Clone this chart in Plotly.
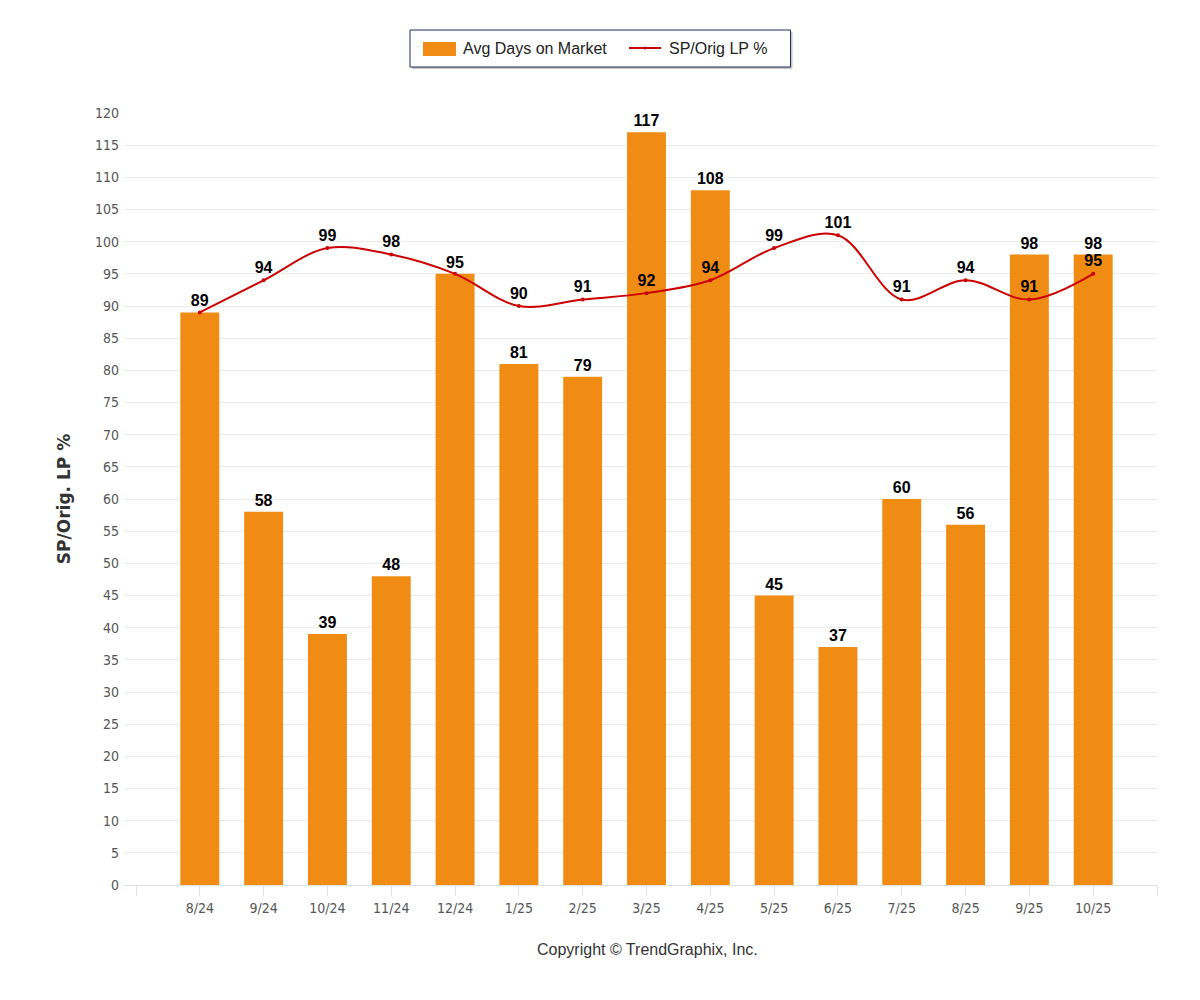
import plotly.graph_objects as go

months = ["8/24", "9/24", "10/24", "11/24", "12/24", "1/25", "2/25", "3/25",
          "4/25", "5/25", "6/25", "7/25", "8/25", "9/25", "10/25"]
avg_days = [89, 58, 39, 48, 95, 81, 79, 117, 108, 45, 37, 60, 56, 98, 98]
sp_orig_lp = [89, 94, 99, 98, 95, 90, 91, 92, 94, 99, 101, 91, 94, 91, 95]
y_ticks = list(range(0, 121, 5))
legend_names = ["Avg Days on Market", "SP/Orig LP %"]

BAR_COLOR = "#F08C14"
LINE_COLOR = "#CC0000"
LABEL_FONT = dict(family="Liberation Sans, Arial, sans-serif", size=16, color="#000000")
TICK_FONT = "DejaVu Sans Condensed, Liberation Sans Narrow, Arial Narrow, sans-serif"

idx = list(range(len(months)))
W, H = 1200, 1000
OFF = 8  # page body margin offset
ml, mr, mt, mb = 116, 51, 105, 123
pw = W - ml - mr
ph = H - mt - mb


def px_x(px):
    return (px - OFF - ml) / pw


def px_y(py):
    return 1 - (py - OFF - mt) / ph


# hide line labels that coincide with the bar label at the same spot
line_text = [("" if v == b else f"<b>{v}</b>") for v, b in zip(sp_orig_lp, avg_days)]

fig = go.Figure()
fig.add_trace(go.Bar(
    x=idx, y=avg_days, name=legend_names[0],
    marker=dict(color=BAR_COLOR, line=dict(width=0)),
    width=0.61,
    text=[f"<b>{v}</b>" for v in avg_days], textposition="outside",
    textfont=LABEL_FONT, cliponaxis=False, showlegend=False,
))
fig.add_trace(go.Scatter(
    x=idx, y=sp_orig_lp, name=legend_names[1],
    mode="lines+markers+text",
    line=dict(color=LINE_COLOR, width=2, shape="spline", smoothing=1.0),
    marker=dict(color=LINE_COLOR, size=4),
    text=line_text, textposition="top center",
    textfont=LABEL_FONT, cliponaxis=False, showlegend=False,
))

slot = (1157 - 136) / (len(months) + 1)
x_left = -1 - (136 - 124) / slot
tickvals = [-1] + idx + [len(months)]
ticktext = [""] + months + [""]

shapes = [
    # legend shadow
    dict(type="rect", xref="paper", yref="paper", layer="above",
         x0=px_x(412), x1=px_x(792.5), y0=px_y(32), y1=px_y(69),
         fillcolor="rgba(0,0,0,0.22)", line=dict(width=0)),
    # legend box
    dict(type="rect", xref="paper", yref="paper", layer="above",
         x0=px_x(410), x1=px_x(790.5), y0=px_y(30), y1=px_y(67),
         fillcolor="white", line=dict(color="#1F2F5F", width=1)),
    # bar symbol
    dict(type="rect", xref="paper", yref="paper", layer="above",
         x0=px_x(423), x1=px_x(456), y0=px_y(42), y1=px_y(56),
         fillcolor=BAR_COLOR, line=dict(width=0)),
    # line symbol
    dict(type="line", xref="paper", yref="paper", layer="above",
         x0=px_x(629), x1=px_x(661), y0=px_y(48), y1=px_y(48),
         line=dict(color=LINE_COLOR, width=2)),
    dict(type="circle", xref="paper", yref="paper", layer="above",
         x0=px_x(643.5), x1=px_x(646.5), y0=px_y(46.5), y1=px_y(49.5),
         fillcolor=LINE_COLOR, line=dict(width=0)),
]

annotations = [
    dict(text=legend_names[0], xref="paper", yref="paper",
         x=px_x(461), y=px_y(48.5), xanchor="left", yanchor="middle", showarrow=False,
         font=dict(family="Liberation Sans, Arial, sans-serif", size=16, color="#222222")),
    dict(text=legend_names[1], xref="paper", yref="paper",
         x=px_x(667), y=px_y(48.5), xanchor="left", yanchor="middle", showarrow=False,
         font=dict(family="Liberation Sans, Arial, sans-serif", size=16, color="#222222")),
    dict(text="Copyright © TrendGraphix, Inc.", xref="paper", yref="paper",
         x=px_x(647), y=px_y(949), xanchor="center", yanchor="middle", showarrow=False,
         font=dict(family="Liberation Sans, Arial, sans-serif", size=16, color="#333333")),
]

fig.update_layout(
    width=W, height=H,
    margin=dict(l=ml, r=mr, t=mt, b=mb),
    plot_bgcolor="white", paper_bgcolor="white",
    font=dict(family="Liberation Sans, Arial, sans-serif", color="#333333"),
    showlegend=False,
    xaxis=dict(
        range=[x_left, len(months)],
        tickmode="array", tickvals=tickvals, ticktext=ticktext,
        showgrid=False, zeroline=False,
        showline=True, linecolor="#E0E0E0", linewidth=1,
        ticks="outside", ticklen=10, tickcolor="#E0E0E0",
        tickfont=dict(family=TICK_FONT, size=14, color="#555555"),
    ),
    yaxis=dict(
        range=[0, 120],
        tickmode="array", tickvals=y_ticks,
        showgrid=True, gridcolor="#EBEBEB", gridwidth=1,
        zeroline=False, showline=False,
        ticks="", ticklabelstandoff=4,
        tickfont=dict(family=TICK_FONT, size=14, color="#555555"),
        title=dict(text="<b>SP/Orig. LP %</b>", standoff=20,
                   font=dict(family="DejaVu Sans, Verdana, sans-serif", size=17, color="#333333")),
    ),
    shapes=shapes,
    annotations=annotations,
)

fig.write_html("out.html")
